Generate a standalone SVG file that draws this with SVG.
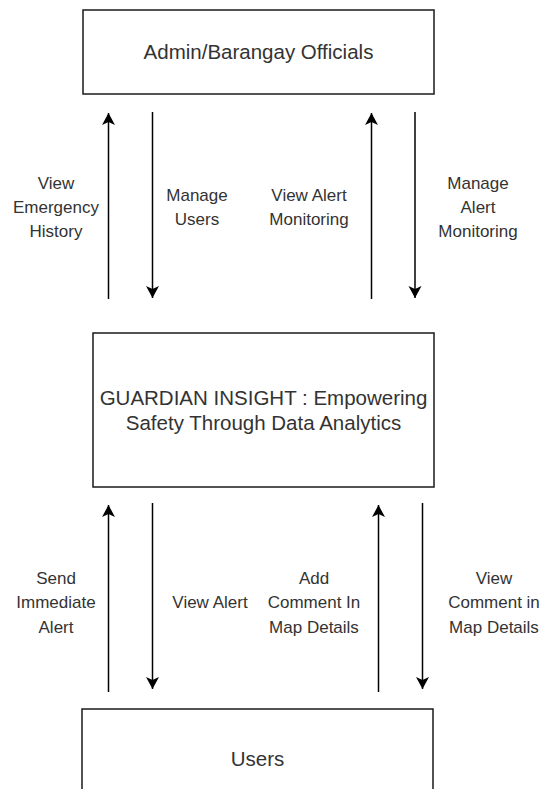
<svg xmlns="http://www.w3.org/2000/svg" width="540" height="789" viewBox="0 0 540 789">
  <style>
    .box { fill: #ffffff; stroke: #1a1a1a; stroke-width: 1.5; }
    .title { font-family: "Liberation Sans", Arial, Helvetica, sans-serif; font-size: 20.5px; fill: #333333; text-anchor: middle; }
    .lbl { font-family: "Liberation Sans", Arial, Helvetica, sans-serif; font-size: 17px; fill: #333333; text-anchor: middle; }
    .conn { fill: none; stroke: #000000; stroke-width: 1.5; }
  </style>
  <defs>
    <marker id="arr" viewBox="0 0 14 14" refX="13" refY="7" markerWidth="14" markerHeight="14" markerUnits="userSpaceOnUse" orient="auto">
      <path d="M13,7 L1,0.5 L4,7 L1,13.5 Z" fill="#000000"/>
    </marker>
  </defs>
  <rect width="540" height="789" fill="#ffffff"/>

  <g id="admin">
    <rect class="box" x="83" y="10" width="351" height="84"/>
    <text class="title" x="258.5" y="59">Admin/Barangay Officials</text>
  </g>

  <g id="system">
    <rect class="box" x="93" y="333" width="341" height="154"/>
    <text class="title" x="263.5" y="405">GUARDIAN INSIGHT : Empowering</text>
    <text class="title" x="263.5" y="430">Safety Through Data Analytics</text>
  </g>

  <g id="users">
    <rect class="box" x="82" y="709" width="351" height="100"/>
    <text class="title" x="257.5" y="766">Users</text>
  </g>

  <g id="connectors">
    <line class="conn" x1="108.5" y1="299" x2="108.5" y2="113" marker-end="url(#arr)"/>
    <line class="conn" x1="152.5" y1="112" x2="152.5" y2="298" marker-end="url(#arr)"/>
    <line class="conn" x1="371.5" y1="299" x2="371.5" y2="113" marker-end="url(#arr)"/>
    <line class="conn" x1="415" y1="112" x2="415" y2="298" marker-end="url(#arr)"/>

    <line class="conn" x1="108.5" y1="692" x2="108.5" y2="505" marker-end="url(#arr)"/>
    <line class="conn" x1="152.5" y1="503" x2="152.5" y2="689" marker-end="url(#arr)"/>
    <line class="conn" x1="378.5" y1="692" x2="378.5" y2="505" marker-end="url(#arr)"/>
    <line class="conn" x1="422.5" y1="503" x2="422.5" y2="689" marker-end="url(#arr)"/>

    <g id="labels">
      <text class="lbl" x="56" y="189">View</text>
      <text class="lbl" x="56" y="213">Emergency</text>
      <text class="lbl" x="56" y="237">History</text>

      <text class="lbl" x="197" y="201">Manage</text>
      <text class="lbl" x="197" y="225">Users</text>

      <text class="lbl" x="309" y="201">View Alert</text>
      <text class="lbl" x="309" y="225">Monitoring</text>

      <text class="lbl" x="478" y="189">Manage</text>
      <text class="lbl" x="478" y="213">Alert</text>
      <text class="lbl" x="478" y="237">Monitoring</text>

      <text class="lbl" x="56" y="584">Send</text>
      <text class="lbl" x="56" y="608">Immediate</text>
      <text class="lbl" x="56" y="633">Alert</text>

      <text class="lbl" x="210" y="608">View Alert</text>

      <text class="lbl" x="314" y="584">Add</text>
      <text class="lbl" x="314" y="608">Comment In</text>
      <text class="lbl" x="314" y="633">Map Details</text>

      <text class="lbl" x="494" y="584">View</text>
      <text class="lbl" x="494" y="608">Comment in</text>
      <text class="lbl" x="494" y="633">Map Details</text>
    </g>
  </g>
</svg>
